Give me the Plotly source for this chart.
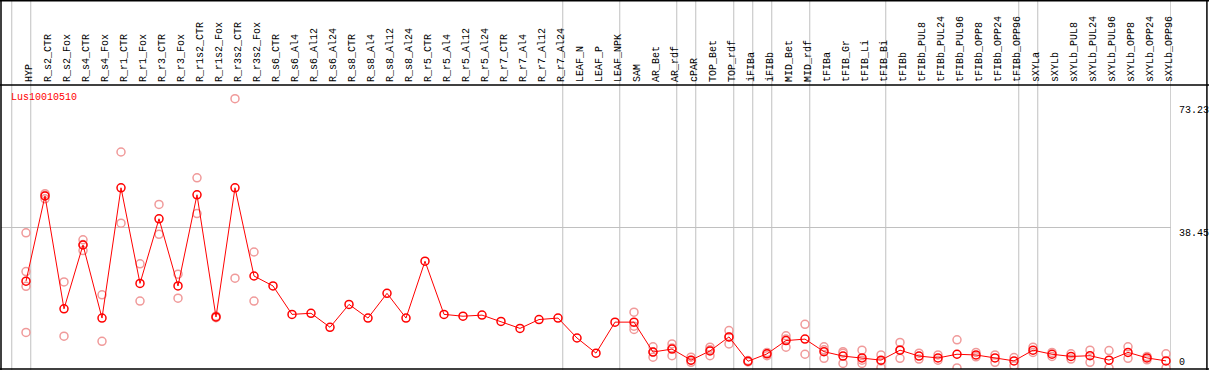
import plotly.graph_objects as go

categories = ["HYP", "R_s2_CTR", "R_s2_Fox", "R_s4_CTR", "R_s4_Fox", "R_r1_CTR", "R_r1_Fox",
              "R_r3_CTR", "R_r3_Fox", "R_r1s2_CTR", "R_r1s2_Fox", "R_r3s2_CTR", "R_r3s2_Fox",
              "R_s6_CTR", "R_s6_Al4", "R_s6_Al12", "R_s6_Al24", "R_s8_CTR", "R_s8_Al4", "R_s8_Al12",
              "R_s8_Al24", "R_r5_CTR", "R_r5_Al4", "R_r5_Al12", "R_r5_Al24", "R_r7_CTR", "R_r7_Al4",
              "R_r7_Al12", "R_r7_Al24", "LEAF_N", "LEAF_P", "LEAF_NPK", "SAM", "AR_Bet", "AR_rdf",
              "cPAR", "TOP_Bet", "TOP_rdf", "iFIBa", "iFIBb", "MID_Bet", "MID_rdf", "tFIBa",
              "tFIB_Gr", "tFIB_Li", "tFIB_Bi", "tFIBb", "tFIBb_PUL8", "tFIBb_PUL24", "tFIBb_PUL96",
              "tFIBb_OPP8", "tFIBb_OPP24", "tFIBb_OPP96", "sXYLa", "sXYLb", "sXYLb_PUL8",
              "sXYLb_PUL24", "sXYLb_PUL96", "sXYLb_OPP8", "sXYLb_OPP24", "sXYLb_OPP96"]

mean_values = [23.8, 46.9, 16.3, 33.6, 13.8, 49.1, 23.2, 40.7, 22.5, 47.2, 14.1, 49.1, 25.2,
               22.5, 14.8, 15.1, 11.3, 17.5, 13.8, 20.5, 13.8, 29.2, 14.8, 14.3, 14.6, 12.9, 11.0,
               13.4, 13.8, 8.4, 4.3, 12.7, 12.7, 4.6, 5.4, 2.4, 4.9, 8.7, 2.1, 4.1, 7.7, 8.1, 4.7,
               3.5, 3.0, 2.4, 5.1, 3.5, 3.0, 4.0, 3.8, 3.0, 2.2, 5.1, 4.0, 3.4, 3.6, 2.4, 4.5, 3.0, 2.2]

replicates = [
    [36.9, 26.4, 22.4, 9.9], [47.5, 46.1, 47.1], [23.6, 8.9], [35.0, 33.7, 32.1], [20.1, 7.5],
    [58.8, 39.5], [28.5, 18.4], [44.6, 36.5], [25.7, 19.2], [51.8, 42.1], [14.3, 13.9],
    [73.23, 24.6], [31.7, 18.4],
    [], [], [], [], [], [], [], [], [], [], [], [], [], [], [], [],
    [], [], [],
    [15.4, 11.6, 10.7], [6.0, 3.2, 4.6], [6.8, 3.6, 5.7], [3.2, 1.8, 2.4], [5.9, 3.6, 5.2],
    [10.4, 6.8, 8.7], [2.3, 1.9, 2.1], [4.5, 3.6, 4.2], [9.0, 5.9, 8.1], [12.1, 4.0],
    [6.0, 2.9, 5.2], [4.7, 1.5, 4.3], [5.1, 1.5, 2.4], [3.8, 2.2, 0.4],
    [7.2, 5.2, 2.9], [4.3, 2.7], [3.8, 2.4], [7.9, 0.3], [4.5, 3.3], [3.8, 1.8], [3.1, 0.9],
    [5.9, 4.5], [4.5, 3.4], [4.1, 2.7], [5.1, 1.8], [5.0, 0.3], [6.0, 2.9], [3.4, 2.5], [4.1, 0.3],
]

# indices of categories followed by a vertical separator (-1 = before the first)
separator_after = [-1, 0, 28, 31, 34, 35, 37, 38, 39, 41, 45, 52, 53, 60]

gene_label = "Lus10010510"
y_tick_values = [73.23, 38.45, 0]
y_tick_labels = ["73.23", "38.45", "0"]

x_idx = list(range(len(categories)))
rep_x, rep_y = [], []
for i, reps in enumerate(replicates):
    for v in reps:
        rep_x.append(i)
        rep_y.append(v)

MONO = "Liberation Mono"

fig = go.Figure()
fig.add_trace(go.Scatter(
    x=rep_x, y=rep_y, mode="markers",
    marker=dict(symbol="circle-open", size=8, color="#f09a9a", line=dict(width=1.5, color="#f09a9a")),
    hoverinfo="y", showlegend=False))
fig.add_trace(go.Scatter(
    x=x_idx, y=mean_values, mode="lines+markers",
    line=dict(color="#ff0000", width=1),
    marker=dict(symbol="circle-open", size=8, color="#ff0000", line=dict(width=1.5, color="#ff0000")),
    hoverinfo="y", showlegend=False))

shapes = []
for s in separator_after:
    shapes.append(dict(type="line", xref="x", yref="paper", x0=s + 0.25, x1=s + 0.25,
                       y0=-0.01, y1=1.31, line=dict(color="#c0c0c0", width=1), layer="below"))
# frame lines
frame = dict(color="black", width=1.5)
shapes.append(dict(type="line", xref="paper", yref="paper", x0=-0.01, x1=1.04, y0=1, y1=1, line=frame))
shapes.append(dict(type="line", xref="paper", yref="paper", x0=-0.01, x1=1.04, y0=1.297, y1=1.297, line=frame))
shapes.append(dict(type="line", xref="paper", yref="paper", x0=1.0307, x1=1.0307, y0=-0.01, y1=1.31, line=frame))
shapes.append(dict(type="line", xref="paper", yref="paper", x0=0, x1=0, y0=-0.01, y1=1.31, line=frame))
shapes.append(dict(type="line", xref="paper", yref="paper", x0=-0.01, x1=1.04, y0=0, y1=0, line=frame))

annotations = [dict(text=gene_label, xref="paper", yref="paper", x=0.0068, y=0.956,
                    xanchor="left", yanchor="middle", showarrow=False,
                    font=dict(family=MONO, size=10, color="#ff0000"))]
shifts = [(-4, "top"), (1, "top"), (-1, "bottom")]
for val, lab, (sh, anc) in zip(y_tick_values, y_tick_labels, shifts):
    annotations.append(dict(text=lab, xref="paper", yref="y", x=1.0055, y=val, xanchor="left",
                            yanchor=anc, yshift=sh, showarrow=False,
                            font=dict(family=MONO, size=10, color="black")))

fig.update_layout(
    width=1209, height=370,
    margin=dict(l=1, r=38, t=85, b=1, pad=0, autoexpand=False),
    paper_bgcolor="white", plot_bgcolor="white",
    xaxis=dict(range=[-25 / 19, 1145 / 19], side="top", tickmode="array", tickvals=x_idx,
               ticktext=categories, tickangle=-90, ticks="", showgrid=False, zeroline=False,
               automargin=False, ticklabelshift=3, ticklabelstandoff=2,
               tickfont=dict(family=MONO, size=10, color="black"), fixedrange=True),
    yaxis=dict(range=[0, 76.95], tickmode="array", tickvals=[38.45], showticklabels=False,
               showgrid=True, gridcolor="#c0c0c0", gridwidth=1, zeroline=False, fixedrange=True,
               automargin=False),
    shapes=shapes, annotations=annotations,
)

fig.write_html("out.html", config={"displayModeBar": False},
               post_script="document.body.style.margin='0';document.body.style.overflow='hidden';")
